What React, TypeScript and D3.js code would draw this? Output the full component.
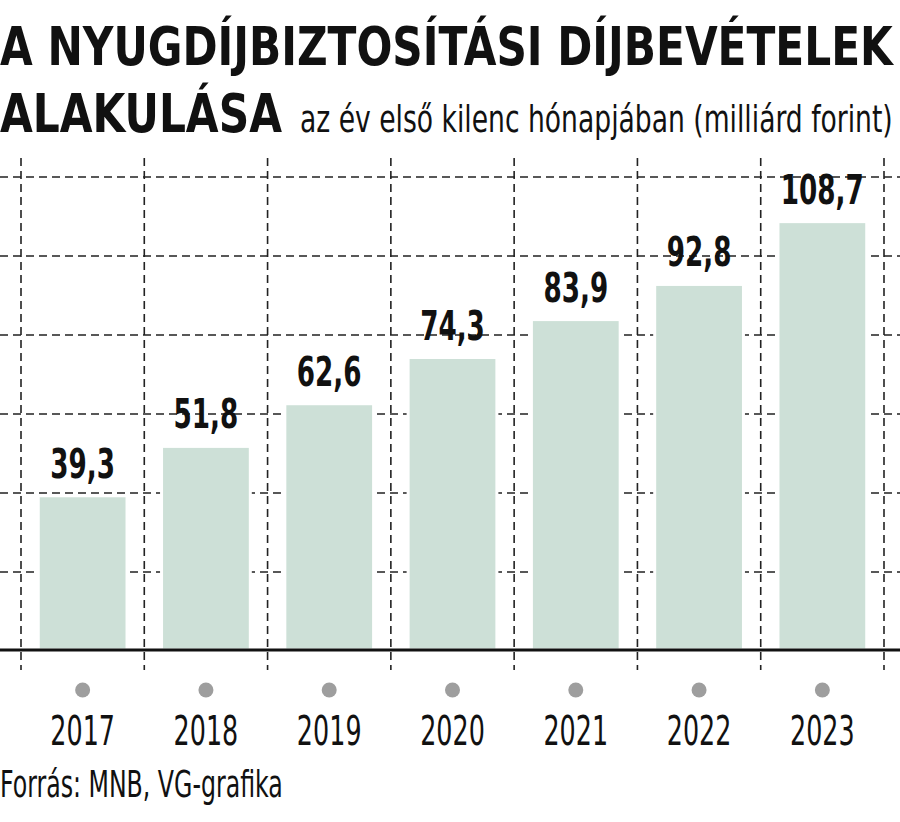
import React, { useLayoutEffect, useRef, useState } from "react";
import * as d3 from "d3";

const years = ["2017", "2018", "2019", "2020", "2021", "2022", "2023"];
const values = [39.3, 51.8, 62.6, 74.3, 83.9, 92.8, 108.7];
const valueLabels = ["39,3", "51,8", "62,6", "74,3", "83,9", "92,8", "108,7"];
const gridValues = [0, 20, 40, 60, 80, 100, 120];

const W = 900;
const H = 822;
const baseY = 650;
const font = "'DejaVu Sans', sans-serif";
const condensed = "'DejaVu Sans Condensed', 'DejaVu Sans', sans-serif";

type FitProps = {
  x: number;
  y: number;
  width: number;
  fontSize: number;
  fontFamily: string;
  fontWeight?: string;
  children: string;
};

function FitText({ x, y, width, fontSize, fontFamily, fontWeight, children }: FitProps) {
  const ref = useRef<SVGTextElement>(null);
  const [sx, setSx] = useState(1);
  useLayoutEffect(() => {
    if (ref.current) {
      const w = ref.current.getComputedTextLength();
      if (w > 0) setSx(width / w);
    }
  }, [width, children, fontSize]);
  return (
    <g transform={`translate(${x},${y}) scale(${sx},1)`}>
      <text ref={ref} x={0} y={0} fontFamily={fontFamily} fontWeight={fontWeight} fontSize={fontSize} fill="#111">
        {children}
      </text>
    </g>
  );
}

export default function App() {
  const x = d3.scaleBand<string>().domain(years).range([21, 884]).paddingInner(0).paddingOuter(0);
  const y = d3.scaleLinear().domain([0, 120]).range([651, 177]);
  const bw = x.bandwidth();
  const barW = bw * 0.72;
  const edges = [...years.map((yr) => x(yr) as number), 884];

  return (
    <svg width={W} height={H} style={{ position: "absolute", left: 0, top: 0, background: "#fff" }}>
      {gridValues.slice(1).map((g) => (
        <line key={"h" + g} x1={0} x2={W} y1={y(g)} y2={y(g)} stroke="#222" strokeWidth={1.6} strokeDasharray="8 5" />
      ))}
      {edges.map((e, i) => (
        <line key={"v" + i} x1={e} x2={e} y1={158} y2={670} stroke="#222" strokeWidth={1.6} strokeDasharray="8 5" />
      ))}
      {years.map((yr, i) => {
        const cx = (x(yr) as number) + bw / 2;
        return (
          <rect
            key={yr}
            x={cx - barW / 2}
            y={y(values[i])}
            width={barW}
            height={baseY - y(values[i])}
            fill="#cde0d7"
            stroke="#fff"
            strokeWidth={3}
          />
        );
      })}
      <line x1={0} x2={W} y1={baseY} y2={baseY} stroke="#111" strokeWidth={3} />
      {years.map((yr, i) => {
        const cx = (x(yr) as number) + bw / 2;
        return (
          <g key={"l" + yr} transform={`translate(${cx},${y(values[i]) - 18}) scale(0.64,1)`}>
            <text x={0} y={0} textAnchor="middle" fontFamily={font} fontWeight="bold" fontSize={41} fill="#111">
              {valueLabels[i]}
            </text>
          </g>
        );
      })}
      {years.map((yr) => {
        const cx = (x(yr) as number) + bw / 2;
        return (
          <g key={"a" + yr}>
            <circle cx={cx} cy={690} r={7.5} fill="#9e9e9e" />
            <g transform={`translate(${cx},745) scale(0.62,1)`}>
              <text x={0} y={0} textAnchor="middle" fontFamily={font} fontSize={41} fill="#111">
                {yr}
              </text>
            </g>
          </g>
        );
      })}
      <FitText x={0} y={65} width={893} fontFamily={condensed} fontWeight="bold" fontSize={54}>
        A NYUGDÍJBIZTOSÍTÁSI DÍJBEVÉTELEK
      </FitText>
      <FitText x={0} y={132} width={282} fontFamily={condensed} fontWeight="bold" fontSize={54}>
        ALAKULÁSA
      </FitText>
      <FitText x={300} y={132} width={593} fontFamily={condensed} fontSize={38}>
        az év első kilenc hónapjában (milliárd forint)
      </FitText>
      <FitText x={0} y={797} width={283} fontFamily={condensed} fontSize={37}>
        Forrás: MNB, VG-grafika
      </FitText>
    </svg>
  );
}
